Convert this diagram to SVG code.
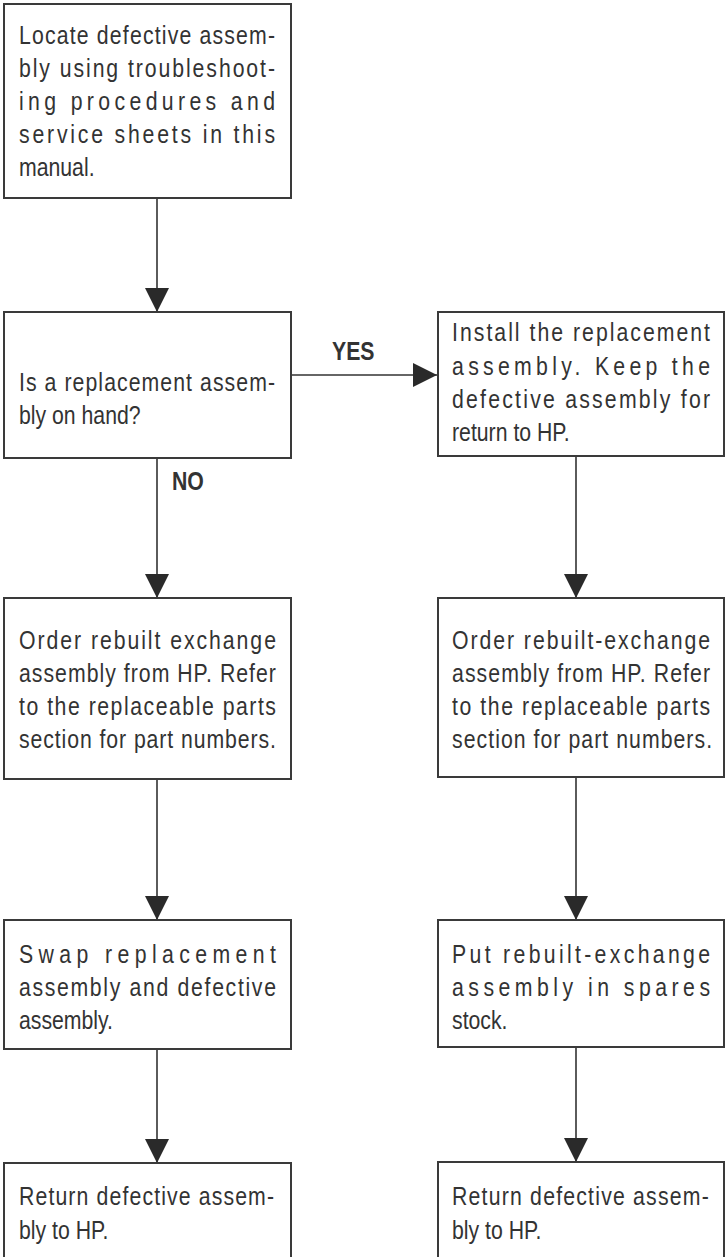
<svg xmlns="http://www.w3.org/2000/svg" width="726" height="1257" viewBox="0 0 726 1257">
<defs>
<style>
.box{fill:#fff;stroke:#3a3a3a;stroke-width:2}
.open{fill:none;stroke:#3a3a3a;stroke-width:2}
.t{font-family:"Liberation Sans",Arial,sans-serif;font-size:25px;fill:#333}
.lbl{font-family:"Liberation Sans",Arial,sans-serif;font-size:25px;font-weight:bold;fill:#333}
.c{stroke:#333;stroke-width:1.6;fill:none;marker-end:url(#ah)}
</style>
<marker id="ah" markerUnits="userSpaceOnUse" viewBox="0 0 24 24" refX="24" refY="12" markerWidth="24" markerHeight="24" orient="auto">
<path d="M0,0 L24,12 L0,24 Z" fill="#2a2a2a"/>
</marker>
</defs>
<rect width="726" height="1257" fill="#fff"/>
<g id="connectors">
<line class="c" x1="157" y1="198" x2="157" y2="312"/>
<line class="c" x1="291" y1="375" x2="437" y2="375"/>
<line class="c" x1="157" y1="458" x2="157" y2="598"/>
<line class="c" x1="576" y1="456" x2="576" y2="598"/>
<line class="c" x1="157" y1="779" x2="157" y2="920"/>
<line class="c" x1="576" y1="777" x2="576" y2="920"/>
<line class="c" x1="157" y1="1049" x2="157" y2="1163"/>
<line class="c" x1="576" y1="1047" x2="576" y2="1162"/>
<g transform="scale(0.85,1)">
<text class="lbl" x="390.6" y="360">YES</text>
<text class="lbl" x="202.4" y="490">NO</text>
</g>
</g>
<g id="n1">
<rect class="box" x="4" y="4" width="287" height="194"/>
<g transform="scale(0.85,1)">
<text class="t" x="22.35" y="44" textLength="301.2" lengthAdjust="spacing">Locate defective assem-</text>
<text class="t" x="22.35" y="77" textLength="301.2" lengthAdjust="spacing">bly using troubleshoot-</text>
<text class="t" x="22.35" y="110" textLength="301.2" lengthAdjust="spacing">ing procedures and</text>
<text class="t" x="22.35" y="143" textLength="301.2" lengthAdjust="spacing">service sheets in this</text>
<text class="t" x="22.35" y="176">manual.</text>
</g>
</g>
<g id="n2">
<rect class="box" x="4" y="312" width="287" height="146"/>
<g transform="scale(0.85,1)">
<text class="t" x="22.35" y="391" textLength="301.2" lengthAdjust="spacing">Is a replacement assem-</text>
<text class="t" x="22.35" y="424">bly on hand?</text>
</g>
</g>
<g id="n3">
<rect class="box" x="438" y="312" width="286" height="144"/>
<g transform="scale(0.85,1)">
<text class="t" x="531.8" y="341" textLength="303.5" lengthAdjust="spacing">Install the replacement</text>
<text class="t" x="531.8" y="375" textLength="303.5" lengthAdjust="spacing">assembly. Keep the</text>
<text class="t" x="531.8" y="408" textLength="303.5" lengthAdjust="spacing">defective assembly for</text>
<text class="t" x="531.8" y="441">return to HP.</text>
</g>
</g>
<g id="n4">
<rect class="box" x="4" y="598" width="287" height="181"/>
<g transform="scale(0.85,1)">
<text class="t" x="22.35" y="649" textLength="302.3" lengthAdjust="spacing">Order rebuilt exchange</text>
<text class="t" x="22.35" y="682" textLength="302.3" lengthAdjust="spacing">assembly from HP. Refer</text>
<text class="t" x="22.35" y="715" textLength="302.3" lengthAdjust="spacing">to the replaceable parts</text>
<text class="t" x="22.35" y="748" textLength="302.3" lengthAdjust="spacing">section for part numbers.</text>
</g>
</g>
<g id="n5">
<rect class="box" x="438" y="598" width="286" height="179"/>
<g transform="scale(0.85,1)">
<text class="t" x="531.8" y="649" textLength="303.5" lengthAdjust="spacing">Order rebuilt-exchange</text>
<text class="t" x="531.8" y="682" textLength="303.5" lengthAdjust="spacing">assembly from HP. Refer</text>
<text class="t" x="531.8" y="715" textLength="303.5" lengthAdjust="spacing">to the replaceable parts</text>
<text class="t" x="531.8" y="748" textLength="305.9" lengthAdjust="spacing">section for part numbers.</text>
</g>
</g>
<g id="n6">
<rect class="box" x="4" y="920" width="287" height="129"/>
<g transform="scale(0.85,1)">
<text class="t" x="22.35" y="963" textLength="302.3" lengthAdjust="spacing">Swap replacement</text>
<text class="t" x="22.35" y="996" textLength="302.3" lengthAdjust="spacing">assembly and defective</text>
<text class="t" x="22.35" y="1029">assembly.</text>
</g>
</g>
<g id="n7">
<rect class="box" x="438" y="920" width="286" height="127"/>
<g transform="scale(0.85,1)">
<text class="t" x="531.8" y="963" textLength="303.5" lengthAdjust="spacing">Put rebuilt-exchange</text>
<text class="t" x="531.8" y="996" textLength="303.5" lengthAdjust="spacing">assembly in spares</text>
<text class="t" x="531.8" y="1029">stock.</text>
</g>
</g>
<g id="n8">
<path class="open" d="M4,1258 V1163 H291 V1258"/>
<g transform="scale(0.85,1)">
<text class="t" x="22.35" y="1205" textLength="300" lengthAdjust="spacing">Return defective assem-</text>
<text class="t" x="22.35" y="1239">bly to HP.</text>
</g>
</g>
<g id="n9">
<path class="open" d="M438,1258 V1162 H724 V1258"/>
<g transform="scale(0.85,1)">
<text class="t" x="531.8" y="1205" textLength="302" lengthAdjust="spacing">Return defective assem-</text>
<text class="t" x="531.8" y="1239">bly to HP.</text>
</g>
</g>
</svg>
